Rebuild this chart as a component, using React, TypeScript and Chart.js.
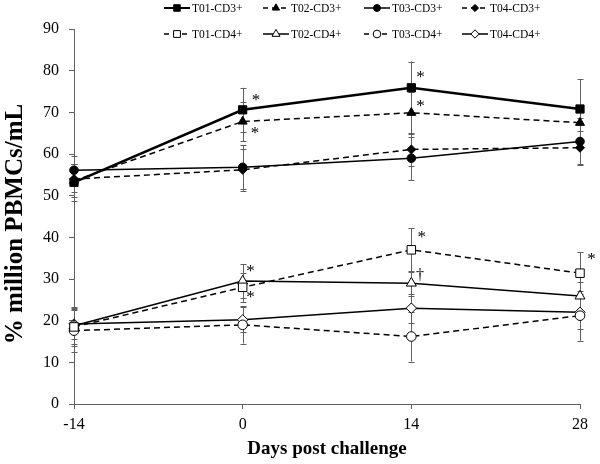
import React, { useEffect, useRef } from 'react';
import { Chart, registerables } from 'chart.js';
Chart.register(...registerables);

// ---------- data ----------
const days = [-14, 0, 14, 28];
const xTicks = [-14, 0, 14, 28];
const seriesNames = ['T01-CD3+', 'T02-CD3+', 'T03-CD3+', 'T04-CD3+', 'T01-CD4+', 'T02-CD4+', 'T03-CD4+', 'T04-CD4+'];

const t01cd3 = [53.2, 70.6, 75.9, 70.8];
const t02cd3 = [53.6, 67.8, 69.9, 67.5];
const t03cd3 = [56.1, 56.8, 59.0, 63.0];
const t04cd3 = [54.0, 56.2, 61.1, 61.5];
const t01cd4 = [18.5, 28.0, 37.0, 31.4];
const t02cd4 = [18.8, 29.5, 29.0, 25.9];
const t03cd4 = [17.6, 19.0, 16.2, 21.2];
const t04cd4 = [19.2, 20.2, 23.0, 22.0];

const errT01cd3 = [4.5, 5.3, 6.3, 7.2];
const errT02cd3 = [4.0, 4.7, 5.0, 4.0];
const errT03cd3 = [3.5, 5.3, 5.2, 5.6];
const errT04cd3 = [3.0, 5.0, 4.0, 4.0];
const errT01cd4 = [4.5, 3.5, 5.2, 5.0];
const errT02cd4 = [4.5, 4.0, 3.0, 3.5];
const errT03cd4 = [5.0, 4.5, 6.0, 6.0];
const errT04cd4 = [3.5, 3.0, 3.5, 4.0];

const annotX = [1.1, 1.02, 14.77, 14.77, 0.66, 0.66, 14.86, 14.71, 28.96];
const annotY = [73.6, 65.6, 79.0, 72.2, 32.6, 26.2, 40.6, 31.0, 35.3];
const annotText = ['*', '*', '*', '*', '*', '*', '*', '\u2020', '*'];

const yTitle = '% million PBMCs/mL';
const xTitle = 'Days post challenge';

// ---------- styles ----------
const seriesValues = [t01cd3, t02cd3, t03cd3, t04cd3, t01cd4, t02cd4, t03cd4, t04cd4];
const seriesErrors = [errT01cd3, errT02cd3, errT03cd3, errT04cd3, errT01cd4, errT02cd4, errT03cd4, errT04cd4];
const styles = [
  { shape: 'rect', fill: true, dash: [] as number[], lw: 2.5, r: 5.8 },
  { shape: 'triangle', fill: true, dash: [6, 4], lw: 1.5, r: 5.2 },
  { shape: 'circle', fill: true, dash: [], lw: 1.5, r: 4.3 },
  { shape: 'rectRot', fill: true, dash: [6, 4], lw: 1.5, r: 4.5 },
  { shape: 'rect', fill: false, dash: [6, 4], lw: 1.5, r: 6.0 },
  { shape: 'triangle', fill: false, dash: [], lw: 1.5, r: 5.8 },
  { shape: 'circle', fill: false, dash: [6, 4], lw: 1.5, r: 4.8 },
  { shape: 'rectRot', fill: false, dash: [], lw: 1.5, r: 5.2 },
];
const legendTextX = [192, 291, 392, 490];
const legendRowY = [8, 34];
const SERIF = "'Liberation Serif', 'Times New Roman', serif";
const AXIS = '#606060';

function drawMarker(ctx: CanvasRenderingContext2D, shape: string, fill: boolean, x: number, y: number, r: number) {
  ctx.save();
  ctx.setLineDash([]);
  ctx.beginPath();
  if (shape === 'rect') {
    const s = r * Math.SQRT1_2;
    ctx.rect(x - s, y - s, 2 * s, 2 * s);
  } else if (shape === 'triangle') {
    ctx.moveTo(x, y - r);
    ctx.lineTo(x + r * 0.866, y + r * 0.5);
    ctx.lineTo(x - r * 0.866, y + r * 0.5);
    ctx.closePath();
  } else if (shape === 'circle') {
    ctx.arc(x, y, r, 0, Math.PI * 2);
  } else {
    ctx.moveTo(x, y - r);
    ctx.lineTo(x + r, y);
    ctx.lineTo(x, y + r);
    ctx.lineTo(x - r, y);
    ctx.closePath();
  }
  ctx.fillStyle = fill ? '#000' : '#fff';
  ctx.fill();
  ctx.lineWidth = 1;
  ctx.strokeStyle = '#000';
  ctx.stroke();
  ctx.restore();
}

const extrasPlugin = {
  id: 'extras',
  beforeDatasetsDraw(chart: any) {
    const ctx = chart.ctx;
    const xs = chart.scales.x;
    const ys = chart.scales.y;
    ctx.save();
    ctx.strokeStyle = AXIS;
    ctx.lineWidth = 1;
    seriesValues.forEach((vals, i) => {
      vals.forEach((v, j) => {
        const e = seriesErrors[i][j];
        const px = Math.round(xs.getPixelForValue(days[j])) + 0.5;
        const y1 = ys.getPixelForValue(v + e);
        const y2 = ys.getPixelForValue(v - e);
        ctx.beginPath();
        ctx.moveTo(px, y1);
        ctx.lineTo(px, y2);
        ctx.moveTo(px - 3, Math.round(y1) + 0.5);
        ctx.lineTo(px + 3, Math.round(y1) + 0.5);
        ctx.moveTo(px - 3, Math.round(y2) + 0.5);
        ctx.lineTo(px + 3, Math.round(y2) + 0.5);
        ctx.stroke();
      });
    });
    ctx.restore();
  },
  afterDraw(chart: any) {
    const ctx = chart.ctx;
    const xs = chart.scales.x;
    const ys = chart.scales.y;
    ctx.save();
    // annotations
    ctx.fillStyle = '#000';
    annotText.forEach((t, i) => {
      ctx.font = t === '*' ? `17px ${SERIF}` : `16px ${SERIF}`;
      const m = ctx.measureText(t);
      const px = xs.getPixelForValue(annotX[i]);
      const py = ys.getPixelForValue(annotY[i]);
      ctx.textAlign = 'center';
      ctx.textBaseline = 'alphabetic';
      ctx.fillText(t, px, py + (m.actualBoundingBoxAscent - m.actualBoundingBoxDescent) / 2);
    });
    // legend
    ctx.font = `11.5px ${SERIF}`;
    seriesNames.forEach((name, i) => {
      const row = Math.floor(i / 4);
      const col = i % 4;
      const tx = legendTextX[col];
      const ty = legendRowY[row];
      const mx = tx - 15;
      const st = styles[i];
      ctx.save();
      ctx.strokeStyle = '#000';
      ctx.lineWidth = st.lw === 2.5 ? 2 : 1.5;
      ctx.setLineDash(st.dash.length ? [5, 4] : []);
      ctx.beginPath();
      ctx.moveTo(mx - 13, ty);
      ctx.lineTo(mx + 13, ty);
      ctx.stroke();
      ctx.restore();
      drawMarker(ctx, st.shape, st.fill, mx, ty, st.r * 0.8);
      ctx.fillStyle = '#000';
      ctx.textAlign = 'left';
      ctx.textBaseline = 'middle';
      ctx.fillText(name, tx, ty + 0.5);
    });
    // axis titles
    ctx.font = `bold 19px ${SERIF}`;
    ctx.textAlign = 'center';
    ctx.textBaseline = 'middle';
    ctx.fillText(xTitle, (chart.chartArea.left + chart.chartArea.right) / 2, 449);
    ctx.save();
    ctx.translate(16, 224);
    ctx.rotate(-Math.PI / 2);
    ctx.font = `bold 25px ${SERIF}`;
    ctx.fillText(yTitle, 0, 0);
    ctx.restore();
    ctx.restore();
  },
};

export default function App() {
  const ref = useRef<HTMLCanvasElement>(null);
  useEffect(() => {
    document.body.style.margin = '0';
    const datasets = seriesValues.map((vals, i) => {
      const st = styles[i];
      return {
        label: seriesNames[i],
        data: vals.map((v, j) => ({ x: days[j], y: v })),
        borderColor: '#000',
        backgroundColor: st.fill ? '#000' : '#fff',
        borderWidth: st.lw,
        borderDash: st.dash,
        pointStyle: st.shape,
        pointRadius: st.r,
        pointBorderWidth: 1,
        pointBorderColor: '#000',
        pointBackgroundColor: st.fill ? '#000' : '#fff',
        tension: 0,
        clip: false as any,
      };
    });
    const chart = new Chart(ref.current!, {
      type: 'line',
      data: { datasets },
      options: {
        animation: false,
        responsive: false,
        devicePixelRatio: 1,
        layout: { padding: { top: 29, right: 20, left: 0, bottom: 0 } },
        plugins: { legend: { display: false }, tooltip: { enabled: false } },
        scales: {
          x: {
            type: 'linear',
            min: -14,
            max: 28,
            afterBuildTicks: (s: any) => { s.ticks = xTicks.map((v) => ({ value: v })); },
            afterFit: (s: any) => { s.height = 60; },
            ticks: { color: '#000', font: { family: SERIF, size: 16 }, padding: 6, maxRotation: 0 },
            grid: { drawOnChartArea: false, drawTicks: true, tickLength: 5, color: AXIS },
            border: { color: AXIS, width: 1 },
          },
          y: {
            min: 0,
            max: 90,
            ticks: { stepSize: 10, color: '#000', font: { family: SERIF, size: 16 }, padding: 10 },
            afterFit: (s: any) => { s.width = 74; },
            grid: { drawOnChartArea: false, drawTicks: true, tickLength: 5, color: AXIS },
            border: { color: AXIS, width: 1 },
          },
        },
      },
      plugins: [extrasPlugin],
    });
    return () => chart.destroy();
  }, []);
  return (
    <div style={{ width: 600, height: 464 }}>
      <canvas ref={ref} width={600} height={464} />
    </div>
  );
}
